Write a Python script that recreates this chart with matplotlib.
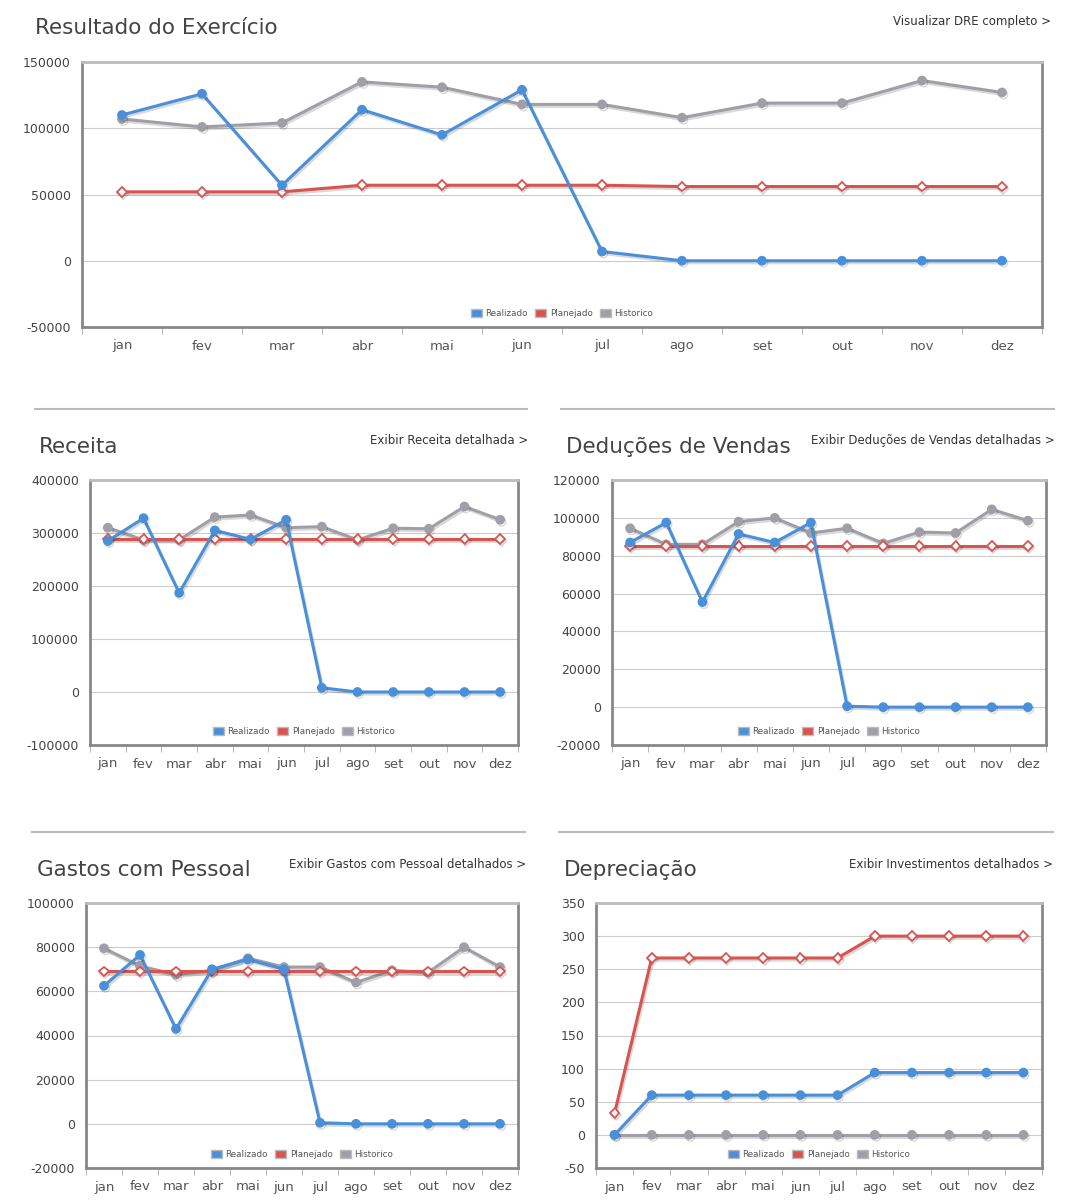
import matplotlib
matplotlib.use("Agg")
import matplotlib.pyplot as plt
import matplotlib.patheffects as pe
from matplotlib.patches import Patch
from matplotlib.lines import Line2D
import numpy as np

plt.rcParams["axes.unicode_minus"] = False

months = ["jan","fev","mar","abr","mai","jun","jul","ago","set","out","nov","dez"]

res_real = [110000,126000,57000,114000,95000,129000,7000,0,0,0,0,0]
res_plan = [52000,52000,52000,57000,57000,57000,57000,56000,56000,56000,56000,56000]
res_hist = [107000,101000,104000,135000,131000,118000,118000,108000,119000,119000,136000,127000]

rec_real = [285000,328000,187000,305000,288000,325000,8000,0,0,0,0,0]
rec_plan = [288000]*12
rec_hist = [310000,287000,287000,330000,334000,310000,312000,287000,309000,308000,350000,325000]

ded_real = [87000,97500,55500,91500,87000,97500,500,0,0,0,0,0]
ded_plan = [85000]*12
ded_hist = [94500,86000,86000,98000,100000,92000,94500,86500,92500,92000,104500,98500]

gas_real = [62500,76500,43000,70000,74500,70000,500,0,0,0,0,0]
gas_plan = [69000]*12
gas_hist = [79500,71500,67500,69500,75000,71000,71000,64000,69500,68500,80000,71000]

dep_real = [0,60,60,60,60,60,60,94,94,94,94,94]
dep_plan = [33,267,267,267,267,267,267,300,300,300,300,300]
dep_hist = [0]*12

BLUE = "#4a90d9"; RED = "#d9534f"; GRAY = "#a09fa8"
W, H = 1071, 1200
fig = plt.figure(figsize=(W/100, H/100), dpi=100)

def ax_px(x1, y1, x2, y2):
    return fig.add_axes([x1/W, 1-y2/H, (x2-x1)/W, (y2-y1)/H])

shadow = [pe.SimpleLineShadow(offset=(1,-1.5), alpha=0.15), pe.Normal()]

def chart(box, real, plan, hist, ylim, step, title, tpos, link, lpos):
    ax = ax_px(*box)
    x = list(range(12))
    ax.plot(x, hist, color=GRAY, lw=2.2, marker="o", ms=6, path_effects=shadow, zorder=3)
    ax.plot(x, plan, color=RED, lw=2.2, marker="D", ms=5, mfc="white", mec=RED, mew=1.3,
            path_effects=shadow, zorder=4)
    ax.plot(x, real, color=BLUE, lw=2.2, marker="o", ms=6, path_effects=shadow, zorder=5)
    ax.set_xlim(-0.5, 11.5)
    ax.set_ylim(*ylim)
    ax.set_yticks(np.arange(ylim[0], ylim[1]+step/2, step))
    ax.yaxis.grid(True, color="#cccccc", lw=0.8)
    ax.set_axisbelow(True)
    ax.set_xticks(x)
    ax.set_xticklabels(months, color="#555555", fontsize=9.5)
    ax.set_xticks([i+0.5 for i in range(-1, 12)], minor=True)
    ax.tick_params(axis="x", which="major", length=0, pad=9)
    ax.tick_params(axis="x", which="minor", length=5, color="#aaaaaa")
    ax.tick_params(axis="y", length=0, labelsize=9, labelcolor="#444444", pad=8)
    for s in ax.spines.values():
        s.set_color("#888888"); s.set_linewidth(2)
    ax.spines["top"].set_color("#bbbbbb")
    handles = [Patch(facecolor=BLUE, edgecolor="#bbbbbb"), Patch(facecolor=RED, edgecolor="#bbbbbb"),
               Patch(facecolor=GRAY, edgecolor="#bbbbbb")]
    leg = ax.legend(handles, ["Realizado", "Planejado", "Historico"], loc="lower center",
                    ncol=3, fontsize=6.3, frameon=False, handlelength=1.3, handleheight=1.1,
                    columnspacing=0.8, handletextpad=0.4, borderaxespad=0.6)
    for t in leg.get_texts():
        t.set_color("#555555")
    fig.text(tpos[0]/W, 1-tpos[1]/H, title, fontsize=15.5, color="#444444", va="center")
    fig.text(lpos/W, 1-(tpos[1]-6)/H, link, fontsize=8.5, color="#333333", va="center", ha="right")
    return ax

chart((82,62,1042,327), res_real, res_plan, res_hist, (-50000,150000), 50000,
      "Resultado do Exercício", (35,28), "Visualizar DRE completo >", 1051)
chart((90,480,518,745), rec_real, rec_plan, rec_hist, (-100000,400000), 100000,
      "Receita", (39,447), "Exibir Receita detalhada >", 528)
chart((612,480,1046,745), ded_real, ded_plan, ded_hist, (-20000,120000), 20000,
      "Deduções de Vendas", (566,447), "Exibir Deduções de Vendas detalhadas >", 1055)
chart((86,903,518,1168), gas_real, gas_plan, gas_hist, (-20000,100000), 20000,
      "Gastos com Pessoal", (37,870), "Exibir Gastos com Pessoal detalhados >", 526)
chart((596,903,1042,1168), dep_real, dep_plan, dep_hist, (-50,350), 50,
      "Depreciação", (564,870), "Exibir Investimentos detalhados >", 1053)

for (x1, x2, y) in [(35,527,409),(561,1054,409),(32,525,832),(559,1053,832)]:
    fig.add_artist(Line2D([x1/W, x2/W], [1-y/H, 1-y/H], color="#bbbbbb", lw=1.5))

fig.savefig("out.png", dpi=100, facecolor="white")
